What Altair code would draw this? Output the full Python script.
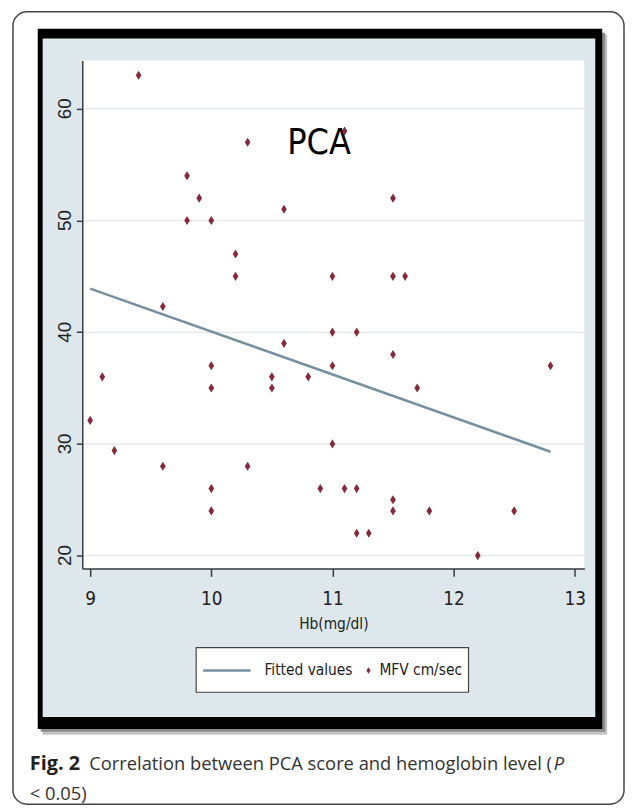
import altair as alt
import pandas as pd

# ---- data ----
hb = [9.0, 9.1, 9.2, 9.4, 9.6, 9.6, 9.8, 9.8, 9.9, 10.0, 10.0, 10.0, 10.0, 10.0,
      10.2, 10.2, 10.3, 10.3, 10.5, 10.5, 10.6, 10.6, 10.8, 10.9, 11.0, 11.0, 11.0,
      11.0, 11.1, 11.1, 11.2, 11.2, 11.2, 11.3, 11.5, 11.5, 11.5, 11.5, 11.5, 11.6,
      11.7, 11.8, 12.2, 12.5, 12.8]
mfv = [32.1, 36, 29.4, 63, 42.3, 28, 54, 50, 52, 50, 37, 35, 26, 24,
       47, 45, 57, 28, 36, 35, 51, 39, 36, 26, 45, 40, 37,
       30, 58, 26, 40, 26, 22, 22, 52, 45, 38, 25, 24, 45,
       35, 24, 20, 24, 37]
fit_hb = [9.0, 12.8]
fit_mfv = [43.9, 29.3]
x_ticks = [9, 10, 11, 12, 13]
y_ticks = [20, 30, 40, 50, 60]
y_tick_labels = ["20", "30", "40", "50", "60"]
x_title = "Hb(mg/dl)"
legend_labels = ["Fitted values", "MFV cm/sec"]
annotation = "PCA"
caption_bold = "Fig. 2"
caption_text = "Correlation between PCA score and hemoglobin level ("
caption_italic = "P"
caption_line2 = "< 0.05)"

# ---- styling ----
W, H = 507, 513
NARROW = "DejaVu Sans Condensed, Liberation Sans Narrow, sans-serif"
SANS = "Liberation Sans, Arial, sans-serif"
CAP = "Open Sans, Noto Sans, sans-serif"
PT_COLOR = "#86293b"
FIT_COLOR = "#7790a0"
BLUE_BG = "#dde7ec"
AXIS_COLOR = "#3a3a3a"
DIAMOND = "M0,-1L0.62,0L0,1L-0.62,0Z"

one = pd.DataFrame({"k": [0]})
pts = pd.DataFrame({"hb": hb, "mfv": mfv})
fit = pd.DataFrame({"hb": fit_hb, "mfv": fit_mfv})
grid = pd.DataFrame({"mfv": y_ticks, "lab": y_tick_labels})

xscale = alt.Scale(domain=[8.935, 13.08], nice=False, zero=False)
yscale = alt.Scale(domain=[18.85, 64.33], nice=False, zero=False)

x_axis = alt.Axis(values=x_ticks, format="d", grid=False, zindex=1,
                  domainColor=AXIS_COLOR, domainWidth=1.5,
                  tickColor=AXIS_COLOR, tickWidth=1.5, tickSize=8,
                  labelFont=NARROW, labelFontSize=19, labelColor="#222222",
                  labelPadding=13, titleFont=NARROW, titleFontSize=15.5,
                  titleFontWeight="normal", titleColor="#222222",
                  titlePadding=9)
y_axis = alt.Axis(values=y_ticks, grid=False, zindex=1, labels=False,
                  domainColor=AXIS_COLOR, domainWidth=1.5,
                  tickColor=AXIS_COLOR, tickWidth=1.5, tickSize=6)


def box(x, x2, y, y2, **kw):
    return alt.Chart(one).mark_rect(**kw).encode(
        x=alt.value(x), x2=alt.value(x2), y=alt.value(y), y2=alt.value(y2))


def label(txt, x, y, **kw):
    return alt.Chart(one).mark_text(text=txt, **kw).encode(
        x=alt.value(x), y=alt.value(y))


outer = box(-70, 547, -49, 751, fill="white", stroke="#444444",
            strokeWidth=1.5, cornerRadius=14)
shadow2 = box(-40, 530, -26, 681, fill="#c4c4c4")
shadow1 = box(-42, 528, -28, 678, fill="#8a8a8a")
frame = box(-45, 525, -32, 675, fill="black")
panel = box(-40, 518, -22, 663, fill=BLUE_BG)
plotbg = box(0, W, 0, H, fill="white")

gridlines = alt.Chart(grid).mark_rule(color="#e6eaec", strokeWidth=1.5).encode(
    y=alt.Y("mfv:Q", scale=yscale, axis=y_axis, title=None),
    x=alt.value(0), x2=alt.value(W))

ylabels = alt.Chart(grid).mark_text(
    angle=270, align="center", baseline="alphabetic", font=SANS,
    fontSize=19, color="#222222"
).encode(
    y=alt.Y("mfv:Q", scale=yscale, axis=y_axis, title=None),
    x=alt.value(-11), text="lab:N")

fitline = alt.Chart(fit).mark_line(color=FIT_COLOR, strokeWidth=2.5).encode(
    x=alt.X("hb:Q", scale=xscale, axis=x_axis, title=x_title),
    y=alt.Y("mfv:Q", scale=yscale, axis=y_axis, title=None))

points = alt.Chart(pts).mark_point(
    shape=DIAMOND, filled=True, color=PT_COLOR, opacity=1, size=85
).encode(
    x=alt.X("hb:Q", scale=xscale, axis=x_axis, title=x_title),
    y=alt.Y("mfv:Q", scale=yscale, axis=y_axis, title=None))

pca = label(annotation, 207, 95, font=NARROW, fontSize=36, color="black",
            align="left", baseline="alphabetic")

leg_box = box(115, 390, 593, 638, fill="white", stroke="#444444", strokeWidth=1.2)
leg_line = alt.Chart(one).mark_rule(color=FIT_COLOR, strokeWidth=2.5).encode(
    x=alt.value(122), x2=alt.value(170), y=alt.value(616))
leg_pt = alt.Chart(one).mark_point(shape=DIAMOND, filled=True, color=PT_COLOR,
                                   opacity=1, size=45).encode(
    x=alt.value(289), y=alt.value(616))
leg_t1 = label(legend_labels[0], 184, 616, font=NARROW, fontSize=15.5,
               color="#222222", align="left", baseline="middle")
leg_t2 = label(legend_labels[1], 300, 616, font=NARROW, fontSize=15.5,
               color="#222222", align="left", baseline="middle")

cap1 = label(caption_bold, -53, 717, font=CAP, fontSize=20, fontWeight="bold",
             color="#231f20", align="left", baseline="alphabetic")
cap2 = label(caption_text, 7, 717, font=CAP, fontSize=18.5, color="#333333",
             align="left", baseline="alphabetic")
cap3 = label(caption_italic, 476, 717, font=CAP, fontSize=18.5, fontStyle="italic",
             color="#333333", align="left", baseline="alphabetic")
cap4 = label(caption_line2, -53, 747, font=CAP, fontSize=18.5, color="#333333",
             align="left", baseline="alphabetic")

chart = alt.layer(
    outer, shadow2, shadow1, frame, panel, plotbg, gridlines, fitline, pca,
    points, ylabels, leg_box, leg_line, leg_pt, leg_t1, leg_t2,
    cap1, cap2, cap3, cap4
).properties(
    width=W, height=H,
    autosize=alt.AutoSizeParams(type="none"),
    padding={"left": 75, "top": 49, "right": 41, "bottom": 240},
    background="white",
).configure_view(stroke=None)

chart.save("out.html", embed_options={"renderer": "svg", "actions": False})
